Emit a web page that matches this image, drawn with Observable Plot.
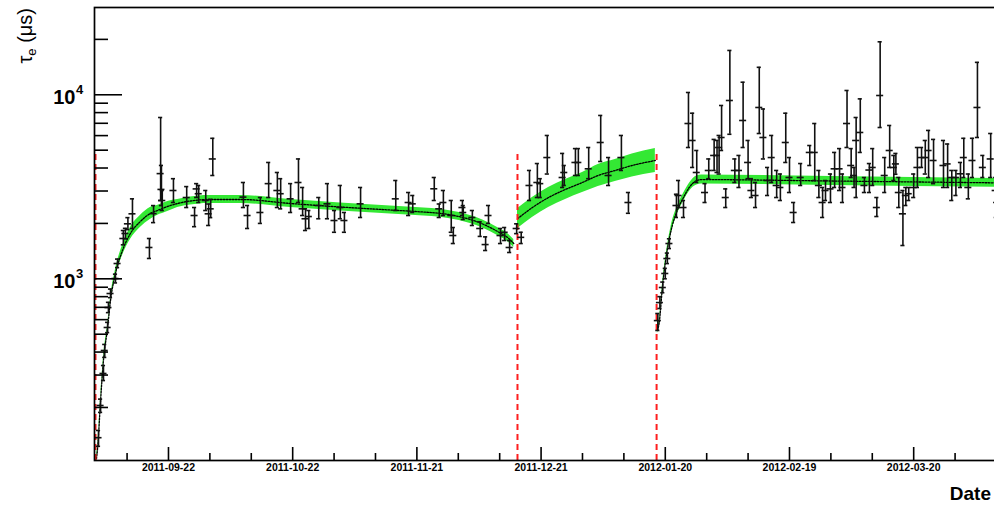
<!DOCTYPE html>
<html><head><meta charset="utf-8">
<script src="https://cdn.jsdelivr.net/npm/d3@7"></script>
<script src="https://cdn.jsdelivr.net/npm/@observablehq/plot@0.6"></script>
<style>
html,body{margin:0;padding:0;background:#fff;overflow:hidden;width:994px;height:506px}
#chart{position:relative;width:1010px;height:506px}
#chart svg{max-width:none !important;width:1010px;height:506px;display:block}
</style></head><body><div id="chart"></div>
<script>
// ---- data (days counted from 2011-09-01 UTC, tau in microseconds) ----
const baseDate = "2011-09-01";
const xDomainDays = [3.13, 221.97];
const yDomain = [103, 29800];

const ptDay = [4.1,4.6,5.3,5.6,6.3,6.5,7.0,8.2,8.7,10.1,10.6,11.2,12.3,
16.4,17.4,19.1,19.3,19.5,22.2,25.4,27.3,27.8,28.3,30.0,30.7,31.2,31.7,
39.1,40.1,43.2,45.2,47.3,48.1,50.5,52.4,53.4,54.1,54.9,57.3,59.4,61.1,62.5,63.5,67.4,75.9,79.0,80.0,
85.2,86.4,87.4,89.3,89.8,92.0,92.2,94.4,96.3,97.6,98.3,101.2,102.2,103.4,105.1,106.2,
108.2,110.1,110.8,112.5,116.2,116.6,119.3,120.0,122.5,125.4,127.3,130.4,132.1,
139.2,139.7,140.4,141.0,141.5,142.0,143.7,144.2,145.4,146.6,147.6,148.6,150.6,151.5,152.8,153.5,154.0,154.6,155.6,
156.6,157.8,158.8,159.8,161.0,161.8,162.8,163.7,164.7,165.7,166.7,167.9,168.8,170.1,171.0,172.0,173.7,175.9,177.1,178.1,
179.0,179.7,180.9,181.9,183.1,183.8,184.9,185.9,186.6,187.1,188.1,189.1,190.3,191.1,192.1,192.9,194.0,195.2,196.2,196.7,
197.4,198.4,199.1,199.8,201.0,201.9,202.9,203.8,204.6,205.8,208.2,209.2,210.2,211.2,212.3,213.1,214.2,215.2,216.4,217.7,219.6,220.8,221.3];

const ptTau = [137,205,306,408,544,698,832,1004,1211,1656,1763,1990,2255,
1480,2260,3730,3060,2664,3019,2765,2208,3080,2900,2664,2255,2400,4480,
2780,2208,2293,3290,3019,2900,2720,3337,2400,2120,2180,2502,2555,2074,2440,2074,2555,2720,2598,2555,
3085,2400,2598,2208,1719,2440,2293,2154,1877,1535,2208,1719,1790,1480,1877,1680,
3215,3337,3290,4560,3552,3782,4287,4287,3960,5505,3643,4560,2598,
593,743,897,1069,1289,1555,2502,2836,2440,6980,5645,3782,2944,3879,4680,4680,5170,5860,2765,
9310,3879,3879,7250,4287,3019,2836,8530,5860,3421,4560,3215,3135,5505,3552,2293,3552,4860,4860,3215,
2598,3019,3080,3960,3960,3135,6980,4128,3643,5645,6240,3215,3900,4027,2440,9910,3643,4980,4027,4210,
2944,2255,2836,2900,3135,4027,4560,4560,4980,4395,4128,4210,3552,3552,3720,4560,3135,4395,8530,4027,4480,3019,2154];

const ptLo = [123,188,280,374,510,655,790,950,1150,1530,1650,1850,1877,
1290,2020,2664,2500,2350,2598,2440,1920,2765,2598,2350,1949,2150,3643,
2440,1877,2000,2765,2440,2400,2293,2598,2208,1830,1877,2120,2120,1790,2120,1790,2154,2350,2208,2293,
2664,2154,2208,1790,1555,2208,2100,1949,1700,1425,2000,1555,1615,1390,1760,1555,
2664,2765,2765,3710,3135,3215,3643,3643,3500,4340,3215,3879,2270,
524,690,840,1000,1210,1460,2154,2440,2154,5170,4027,3337,2598,3500,3879,3782,3710,4980,2440,
6100,3337,3135,5170,3500,2765,2440,6160,4480,2836,3337,2765,2664,4287,2944,2023,3215,4128,3421,2765,
2154,2664,2598,3135,3019,2598,5170,3552,3135,2765,4860,2944,2944,3215,2180,6640,2944,4027,3421,3700,
2440,1517,2502,2664,2765,3135,4027,3710,3552,3290,3135,3135,2664,2836,3135,3552,2720,3552,5860,3552,3552,2598,1949];

const ptHi = [150,222,338,440,580,745,880,1060,1280,1830,1880,2150,2720,
1656,2500,7525,4130,3019,3500,3170,2440,3290,3215,3019,2550,2700,5800,
3337,2502,2765,4287,3782,3500,3290,4480,3135,2400,2350,2765,3290,2350,3215,2293,3135,3421,2944,2836,
3552,2550,3019,2664,1900,2664,2500,2350,2040,1690,2502,1877,1900,1615,1990,1790,
3879,4230,3500,6010,4800,4128,5100,5100,5170,7720,4560,6010,2944,
648,800,960,1140,1380,1650,2880,3421,2664,10290,7940,4980,3290,4480,5720,5650,6010,8746,3080,
17410,4480,4680,11700,5645,3500,3337,14100,8370,4027,6010,3879,3710,7940,4560,2598,4230,5300,6980,3879,
3135,3420,3710,4860,5100,3710,10550,5100,4027,7525,9500,3550,4230,5100,2765,19400,4560,6810,4680,4800,
3552,3019,3135,3135,3710,5170,5170,5645,6400,5720,5645,5400,3879,3879,4287,5800,3710,5800,15000,4680,6160,3552,2293];

// fit curves: [day, tau, bandLow, bandHigh]
const fit1 = [[3.6,105,101,109],[3.9,121,117,126],[4.6,218,210,226],[5.3,360,347,374],[6.3,544,524,565],[7.0,762,734,791],
[8.2,1069,1017,1124],[9.8,1407,1321,1498],[11.8,1763,1635,1901],[14.2,2048,1900,2208],[16.6,2264,2100,2441],
[18.3,2350,2207,2503],[20.8,2472,2321,2633],[23.2,2566,2441,2697],[26.3,2647,2519,2782],[30.7,2698,2567,2836],
[38.4,2698,2567,2836],[50.5,2566,2441,2697],[62.5,2456,2337,2581],[74.6,2365,2250,2486],[80.7,2321,2208,2439],
[88.6,2236,2127,2350],[93.9,2100,1998,2207],[96.9,1985,1889,2086],[100.7,1796,1709,1888],[103.2,1656,1576,1740],[104.4,1555,1480,1634]];
const fit2 = [[105.3,2120,1871,2402],[108.9,2440,2154,2765],[112.8,2765,2440,3133],[116.9,3060,2701,3467],
[121.0,3337,2945,3781],[124.8,3643,3173,4182],[128.9,3879,3379,4453],[133.0,4128,3574,4768],[138.6,4395,3782,5107]];
const fit3 = [[139.1,524,505,544],[139.5,571,550,593],[140.4,943,908,979],[141.2,1305,1257,1355],[142.4,1830,1741,1923],
[143.7,2293,2182,2410],[145.4,2765,2631,2906],[146.8,3135,2983,3295],[148.6,3420,3235,3615],[149.8,3460,3270,3660],
[181.1,3400,3215,3595],[222,3320,3140,3510]];

// run boundaries (red dashed lines)
const boundaryDays = [3.37, 105.3, 138.9];
const boundaryTop = 4800;

// axis ticks
const xMajorTicks = ["2011-09-22","2011-10-22","2011-11-21","2011-12-21","2012-01-20","2012-02-19","2012-03-20"];
const xMinorTicks = ["2011-09-12","2011-10-02","2011-10-12","2011-11-01","2011-11-11","2011-12-01","2011-12-11","2011-12-31",
"2012-01-10","2012-01-30","2012-02-09","2012-02-29","2012-03-10","2012-03-30","2012-04-09"];
const yMajorTicks = [1000, 10000];
const yMajorExp = ["3", "4"];
const yMinorTicks = [200,300,400,500,600,700,800,900,2000,3000,4000,5000,6000,7000,8000,9000,20000];

const xErrDays = 0.85;
const capDays = 0.5;

// ---- build ----
const t0 = Date.parse(baseDate + "T00:00:00Z");
const toDate = d => new Date(t0 + d * 864e5);
const pts = ptDay.map((d, i) => ({d, date: toDate(d), tau: ptTau[i], lo: ptLo[i], hi: ptHi[i]}));
const fitRows = (arr) => arr.map(r => ({date: toDate(r[0]), tau: r[1], lo: r[2], hi: r[3]}));
const fits = [fitRows(fit1), fitRows(fit2), fitRows(fit3)];

const W = 1010, H = 506, mT = 7, mL = 94, mR = 10, mB = 46;
const plotW = W - mL - mR, plotH = H - mT - mB;
const font = "'Liberation Sans', Arial, Helvetica, sans-serif";
const green = "#34e834";

const marks = [];
for (const f of fits) {
  marks.push(Plot.areaY(f, {x: "date", y1: "lo", y2: "hi", fill: green, curve: "monotone-x"}));
}
for (const f of fits) {
  marks.push(Plot.line(f, {x: "date", y: "tau", stroke: "#000", strokeWidth: 1.3, strokeDasharray: "1.6,1.4", curve: "monotone-x"}));
}
marks.push(Plot.ruleX(boundaryDays, {x: d => toDate(d), y1: yDomain[0], y2: boundaryTop, stroke: "#ff1e1e", strokeWidth: 2, strokeDasharray: "6,4"}));
// error bars
marks.push(Plot.ruleX(pts, {x: "date", y1: "lo", y2: "hi", stroke: "#111", strokeWidth: 1.6}));
marks.push(Plot.ruleY(pts, {y: "tau", x1: p => toDate(p.d - xErrDays), x2: p => toDate(p.d + xErrDays), stroke: "#111", strokeWidth: 1.6}));
marks.push(Plot.ruleY(pts, {y: "lo", x1: p => toDate(p.d - capDays), x2: p => toDate(p.d + capDays), stroke: "#111", strokeWidth: 1.6}));
marks.push(Plot.ruleY(pts, {y: "hi", x1: p => toDate(p.d - capDays), x2: p => toDate(p.d + capDays), stroke: "#111", strokeWidth: 1.6}));
// frame & ticks
marks.push(Plot.frame({stroke: "#000", strokeWidth: 1.7}));
marks.push(Plot.ruleX(xMajorTicks, {x: d => new Date(d), insetTop: plotH - 13, stroke: "#000", strokeWidth: 1.6}));
marks.push(Plot.ruleX(xMinorTicks, {x: d => new Date(d), insetTop: plotH - 7, stroke: "#000", strokeWidth: 1.6}));
marks.push(Plot.ruleY(yMajorTicks, {y: d => d, insetRight: plotW - 28, stroke: "#000", strokeWidth: 1.6}));
marks.push(Plot.ruleY(yMinorTicks, {y: d => d, insetRight: plotW - 14, stroke: "#000", strokeWidth: 1.6}));
// tick labels
marks.push(Plot.text(xMajorTicks, {x: d => new Date(d), frameAnchor: "bottom", text: d => d, lineAnchor: "top", dy: 3,
  fontSize: 10.5, fontWeight: "bold", fill: "#000"}));
marks.push(Plot.text(yMajorTicks, {y: d => d, frameAnchor: "left", text: () => "10", textAnchor: "end", lineAnchor: "middle",
  dx: -19, dy: 3, fontSize: 20, fontWeight: "bold", fill: "#000"}));
marks.push(Plot.text(yMajorTicks, {y: d => d, frameAnchor: "left", text: (d, i) => yMajorExp[i], textAnchor: "start", lineAnchor: "middle",
  dx: -18.5, dy: -5, fontSize: 13, fontWeight: "bold", fill: "#000"}));

const svg = Plot.plot({
  width: W, height: H, marginTop: mT, marginLeft: mL, marginRight: mR, marginBottom: mB,
  x: {type: "utc", domain: [toDate(xDomainDays[0]), toDate(xDomainDays[1])], axis: null},
  y: {type: "log", domain: yDomain, axis: null},
  style: {fontFamily: font, background: "#fff", color: "#000", overflow: "visible", maxWidth: "none"},
  marks
});
svg.style.maxWidth = "none";

const s = d3.select(svg);
const yt = s.append("text")
  .attr("transform", "translate(32,8) rotate(-90)")
  .attr("text-anchor", "end")
  .attr("font-family", font).attr("font-size", 20).attr("fill", "#000");
yt.append("tspan").text("τ");
yt.append("tspan").attr("font-size", 13).attr("dy", 4).text("e");
yt.append("tspan").attr("dy", -4).text(" (μs)");

s.append("text").attr("x", 991).attr("y", 500).attr("text-anchor", "end")
  .attr("font-family", font).attr("font-size", 19).attr("font-weight", "bold").attr("fill", "#000")
  .text("Date");

document.getElementById("chart").appendChild(svg);
</script></body></html>
